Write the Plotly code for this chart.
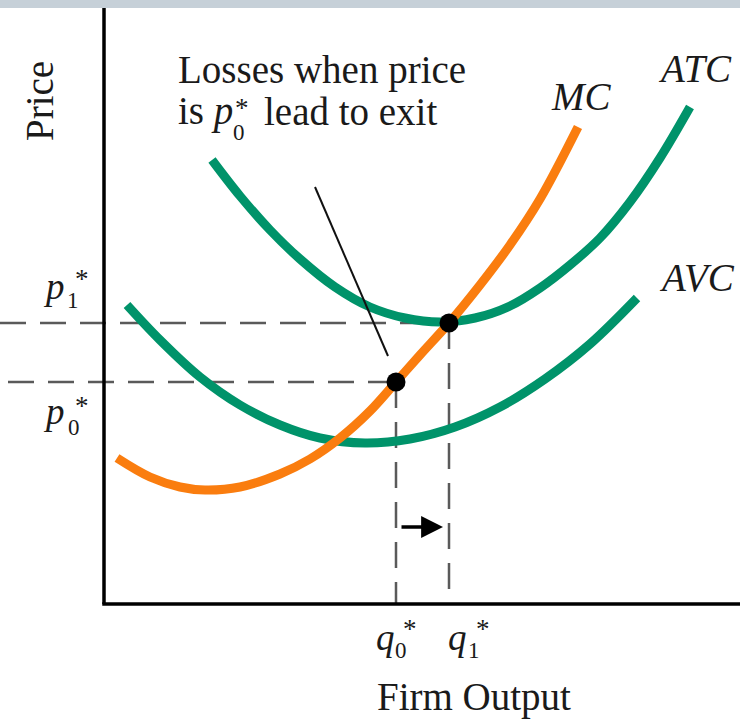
import plotly.graph_objects as go

# Cost curves (output q, price p)
ATC_Q = [2.16, 2.72, 3.32, 3.92, 4.62, 5.32, 6.02, 6.72, 7.42, 8.12, 8.72, 9.32, 9.92, 10.52, 11.12, 11.72]
ATC_P = [8.88, 8.16, 7.48, 6.90, 6.34, 5.94, 5.72, 5.64, 5.72, 5.96, 6.32, 6.78, 7.32, 8.04, 8.92, 9.94]

AVC_Q = [0.46, 1.12, 1.92, 2.72, 3.52, 4.32, 5.22, 6.12, 7.02, 7.92, 8.82, 9.72, 10.66]
AVC_P = [5.98, 5.28, 4.54, 3.98, 3.58, 3.32, 3.22, 3.30, 3.54, 3.94, 4.50, 5.20, 6.12]

MC_Q = [0.26, 0.92, 1.52, 2.02, 2.72, 3.52, 4.12, 4.72, 5.32, 5.84, 6.32, 6.90, 7.52, 8.12, 8.72, 9.48]
MC_P = [2.92, 2.54, 2.34, 2.28, 2.34, 2.60, 2.90, 3.32, 3.86, 4.44, 4.98, 5.62, 6.38, 7.18, 8.10, 9.54]

# Equilibrium points
Q0, P0 = 5.84, 4.44
Q1, P1 = 6.90, 5.62

X_RANGE = [-2.08, 12.72]
Y_RANGE = [-2.34, 12.08]

GREEN = "#00936a"
ORANGE = "#fa7d0f"
DASH_GRAY = "#5a5a5a"
SERIF = "Liberation Serif, Times New Roman, serif"

fig = go.Figure()

# dashed guide lines
dash = "26px,14px"
fig.add_trace(go.Scatter(x=[X_RANGE[0], Q1], y=[P1, P1], mode="lines",
                         line=dict(color=DASH_GRAY, width=2.5, dash=dash)))
fig.add_trace(go.Scatter(x=[X_RANGE[0] + 0.16, Q0], y=[P0, P0], mode="lines",
                         line=dict(color=DASH_GRAY, width=2.5, dash=dash)))
fig.add_trace(go.Scatter(x=[Q0, Q0], y=[P0, 0], mode="lines",
                         line=dict(color=DASH_GRAY, width=2.5, dash=dash)))
fig.add_trace(go.Scatter(x=[Q1, Q1], y=[P1, 0], mode="lines",
                         line=dict(color=DASH_GRAY, width=2.5, dash=dash)))

# cost curves
for q, p, c in [(AVC_Q, AVC_P, GREEN), (ATC_Q, ATC_P, GREEN), (MC_Q, MC_P, ORANGE)]:
    fig.add_trace(go.Scatter(x=q, y=p, mode="lines",
                             line=dict(color=c, width=9, shape="spline", smoothing=1.0)))

# pointer from the note to the p0 point
fig.add_trace(go.Scatter(x=[4.22, 5.68], y=[8.34, 4.96], mode="lines",
                         line=dict(color="#111111", width=2)))

# equilibrium dots
fig.add_trace(go.Scatter(x=[Q0, Q1], y=[P0, P1], mode="markers",
                         marker=dict(color="black", size=19)))

shapes = [
    # top band
    dict(type="rect", xref="paper", yref="paper", x0=0, x1=1, y0=1 - 8 / 721, y1=1,
         fillcolor="#c6d0d8", line=dict(width=0), layer="above"),
    # axes
    dict(type="line", xref="x", yref="y", x0=0, x1=0, y0=0, y1=Y_RANGE[1] - 0.16,
         line=dict(color="black", width=3.5)),
    dict(type="line", xref="x", yref="y", x0=-0.035, x1=X_RANGE[1], y0=0, y1=0,
         line=dict(color="black", width=3.5)),
]

ann = []


def txt(text, x, y, size, xs=0, ys=0, xanchor="center", angle=0):
    ann.append(dict(text=text, x=x, y=y, xref="x", yref="y", showarrow=False,
                    xanchor=xanchor, yanchor="middle", xshift=xs, yshift=ys,
                    textangle=angle, font=dict(family=SERIF, size=size, color="#1a1a1a")))


STAR = 27
SUB = 23

# note text
txt("Losses when price", 1.44, 10.68, 39, xanchor="left")
txt("is <i>p</i>", 1.44, 9.86, 39, xanchor="left")
txt("lead to exit", 3.16, 9.86, 39, xanchor="left")
txt("*", 2.76, 9.92, STAR)
txt("0", 2.70, 9.44, SUB)

# curve labels
txt("<i>MC</i>", 9.54, 10.16, 39)
txt("<i>ATC</i>", 11.82, 10.72, 39)
txt("<i>AVC</i>", 11.86, 6.54, 39)

# axis titles
txt("Price", -1.3, 10.06, 39, angle=-90)
txt("Firm Output", 7.4, -1.86, 39)

# price labels
txt("<i>p</i>", 0, P1, 37, xs=-50, ys=37)
txt("1", 0, P1, SUB, xs=-31, ys=23)
txt("*", 0, P1, STAR, xs=-22, ys=44)
txt("<i>p</i>", 0, P0, 37, xs=-50, ys=-29)
txt("0", 0, P0, SUB, xs=-30, ys=-45)
txt("*", 0, P0, STAR, xs=-22, ys=-24)

# quantity labels
txt("<i>q</i>", Q0, 0, 37, xs=-11, ys=-33)
txt("0", Q0, 0, SUB, xs=5, ys=-46)
txt("*", Q0, 0, STAR, xs=14, ys=-25)
txt("<i>q</i>", Q1, 0, 37, xs=8, ys=-33)
txt("1", Q1, 0, SUB, xs=25, ys=-46)
txt("*", Q1, 0, STAR, xs=34, ys=-25)

# arrow showing the shift from q0 to q1
ann.append(dict(x=Q1 - 0.12, y=1.54, ax=Q0 + 0.08, ay=1.54, xref="x", yref="y",
                axref="x", ayref="y", showarrow=True, arrowhead=2, arrowsize=1.25,
                arrowwidth=3.5, arrowcolor="black", text="", standoff=0, startstandoff=0))

fig.update_layout(
    width=740, height=721,
    margin=dict(l=0, r=0, t=0, b=0),
    paper_bgcolor="white", plot_bgcolor="white",
    showlegend=False,
    xaxis=dict(range=X_RANGE, visible=False, fixedrange=True),
    yaxis=dict(range=Y_RANGE, visible=False, fixedrange=True),
    shapes=shapes,
    annotations=ann,
)

fig.write_html("out.html")
